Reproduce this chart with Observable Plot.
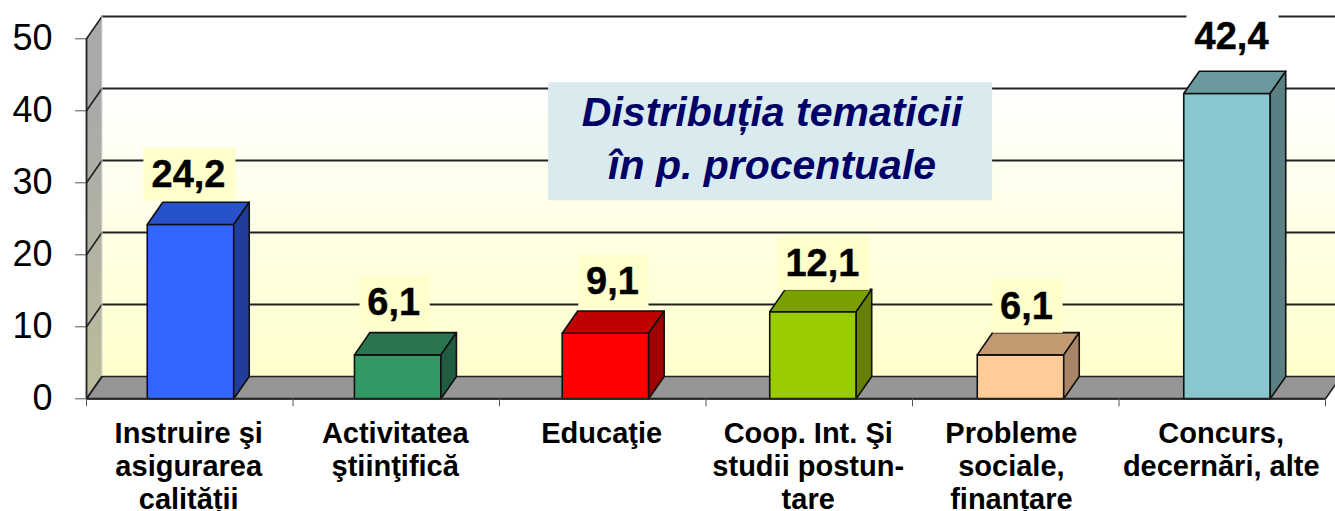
<!DOCTYPE html>
<html><head><meta charset="utf-8">
<style>html,body{margin:0;padding:0;background:#fff}svg{display:block}</style>
<script src="https://cdn.jsdelivr.net/npm/d3@7"></script>
<script src="https://cdn.jsdelivr.net/npm/@observablehq/plot@0.6"></script>
</head><body><script>
const categories = ["Instruire şi\nasigurarea\ncalității","Activitatea\nştiinţifică","Educaţie","Coop. Int. Şi\nstudii postun-\ntare","Probleme\nsociale,\nfinanțare","Concurs,\ndecernări, alte"];
const values = [24.2,6.1,9.1,12.1,6.1,42.4];
const labels = ["24,2","6,1","9,1","12,1","6,1","42,4"];
const fronts = ["#3366ff","#339966","#ff0000","#99cc00","#ffcc99","#8ac6ce"];
const tops = ["#2851cc","#28754f","#c00000","#7a9f00","#c49a72","#6a9a9e"];
const sides = ["#1f3d99","#1f5c40","#a00000","#668000","#a88567","#5a8084"];
const labelBg = ["#ffffcc","#ffffcc","#ffffcc","#ffffcc","#ffffcc","#ffffff"];
const yTicks = [0,10,20,30,40,50];
const title = "Distribuția tematicii\nîn p. procentuale";
const font = "'Liberation Sans', Arial, sans-serif";

// layout helpers, in data units
const barCenters = [0.5036,1.507,2.513,3.518,4.523,5.523];
const textCenters = [0.495,1.495,2.495,3.495,4.479,5.495];
const labelShiftX = [-0.0097,-0.0194,0.034,0.046,0.029,0.022];
const labelShiftY = [6.94,7.28,7.19,6.67,6.72,7.85];
const labelBoxHalf = [0.223,0.17,0.17,0.223,0.17,0.223];
const dX = 15.5/206.5, dY = 22.3/7.2, barHalf = 0.2094;

const poly = (pts, fill, group) => pts.map(([x,y]) => ({x,y,fill,group}));
const face = (data, stroke="#111", sw=1.6) => Plot.line(data,{x:"x",y:"y",fill:d=>d.fill,z:"group",stroke,strokeWidth:sw,strokeLinejoin:"round",curve:"linear"});
const boxes = values.flatMap((v,i)=>{
  const l=barCenters[i]-barHalf, r=barCenters[i]+barHalf;
  return [
    face(poly([[l,0],[r,0],[r,v],[l,v],[l,0]],fronts[i],"f"+i)),
    face(poly([[l,v],[r,v],[r+dX,v+dY],[l+dX,v+dY],[l,v]],tops[i],"t"+i)),
    face(poly([[r,0],[r+dX,dY],[r+dX,v+dY],[r,v],[r,0]],sides[i],"s"+i))
  ];
});
const defs = () => {
  const s = d3.create("svg:defs");
  const g = (id, a, b) => { const lg=s.append("linearGradient").attr("id",id).attr("x1",0).attr("x2",0).attr("y1",0).attr("y2",1);
    lg.append("stop").attr("offset","0").attr("stop-color",a); lg.append("stop").attr("offset","0.2").attr("stop-color",a); lg.append("stop").attr("offset","1").attr("stop-color",b); };
  g("wall","#ffffff","#ffffcc"); g("side","#a9a9a9","#bcbc9c");
  return s.node();
};
const xs = d3.range(7);
const labelX = i => barCenters[i]+labelShiftX[i];
const labelY = (v,i) => v+labelShiftY[i];
const chart = Plot.plot({
  width:1335,height:511,marginLeft:86,marginRight:10,marginTop:38.3,marginBottom:112.7,
  style:{fontFamily:font,background:"#fff",overflow:"visible"},
  x:{type:"linear",domain:[0,6],axis:null},
  y:{type:"linear",domain:[0,50],axis:null},
  marks:[
    defs,
    face(poly([[dX,dY],[6+dX,dY],[6+dX,50+dY],[dX,50+dY],[dX,dY]],"url(#wall)","w"),"none",0),
    face(poly([[0,0],[dX,dY],[dX,50+dY],[0,50],[0,0]],"url(#side)","sw"),"none",0),
    face(poly([[0,0],[6,0],[6+dX,dY],[dX,dY],[0,0]],"#969696","fl"),"#222",1.6),
    Plot.ruleY(yTicks.slice(1),{x1:dX,x2:6+dX,y:d=>d+dY,stroke:"#222",strokeWidth:1.8}),
    Plot.link(yTicks,{x1:0,y1:d=>d,x2:dX,y2:d=>d+dY,stroke:"#222",strokeWidth:1.6}),
    Plot.ruleX([0],{y1:0,y2:50,stroke:"#222",strokeWidth:1.8}),
    Plot.ruleX([dX],{y1:dY,y2:50+dY,stroke:"#ddd",strokeWidth:1}),
    ...boxes,
    Plot.ruleY([0],{x1:0,x2:6,stroke:"#222",strokeWidth:2}),
    Plot.axisY({ticks:yTicks,tickSize:11,tickPadding:23,fontSize:36,label:null,stroke:"#555",fill:"#000"}),
    Plot.axisX({ticks:xs,tickSize:8,tickFormat:()=>"",label:null,stroke:"#555"}),
    Plot.text(categories,{x:(d,i)=>textCenters[i],y:0,dy:21,text:d=>d,lineAnchor:"top",lineHeight:1.14,fontSize:29,fontWeight:"bold",fill:"#000"}),
    Plot.rect(values,{x1:(d,i)=>labelX(i)+.007-labelBoxHalf[i],x2:(d,i)=>labelX(i)+.007+labelBoxHalf[i],y1:(d,i)=>labelY(d,i)-3.72,y2:(d,i)=>labelY(d,i)+3.72,fill:(d,i)=>labelBg[i]}),
    Plot.text(values,{x:(d,i)=>labelX(i),y:labelY,text:(d,i)=>labels[i],fontSize:38,fontWeight:"bold",fill:"#000",stroke:"#000",strokeWidth:.4}),
    Plot.rect([0],{x1:()=>2.2378,x2:()=>4.388,y1:()=>27.5,y2:()=>43.9,fill:"#daebef"}),
    Plot.text([title],{x:()=>3.32,y:()=>36.55,text:d=>d,fontSize:41,fontWeight:"bold",fontStyle:"italic",fill:"#000066",lineHeight:1.28})
  ]
});
document.body.appendChild(chart);
</script></body></html>
